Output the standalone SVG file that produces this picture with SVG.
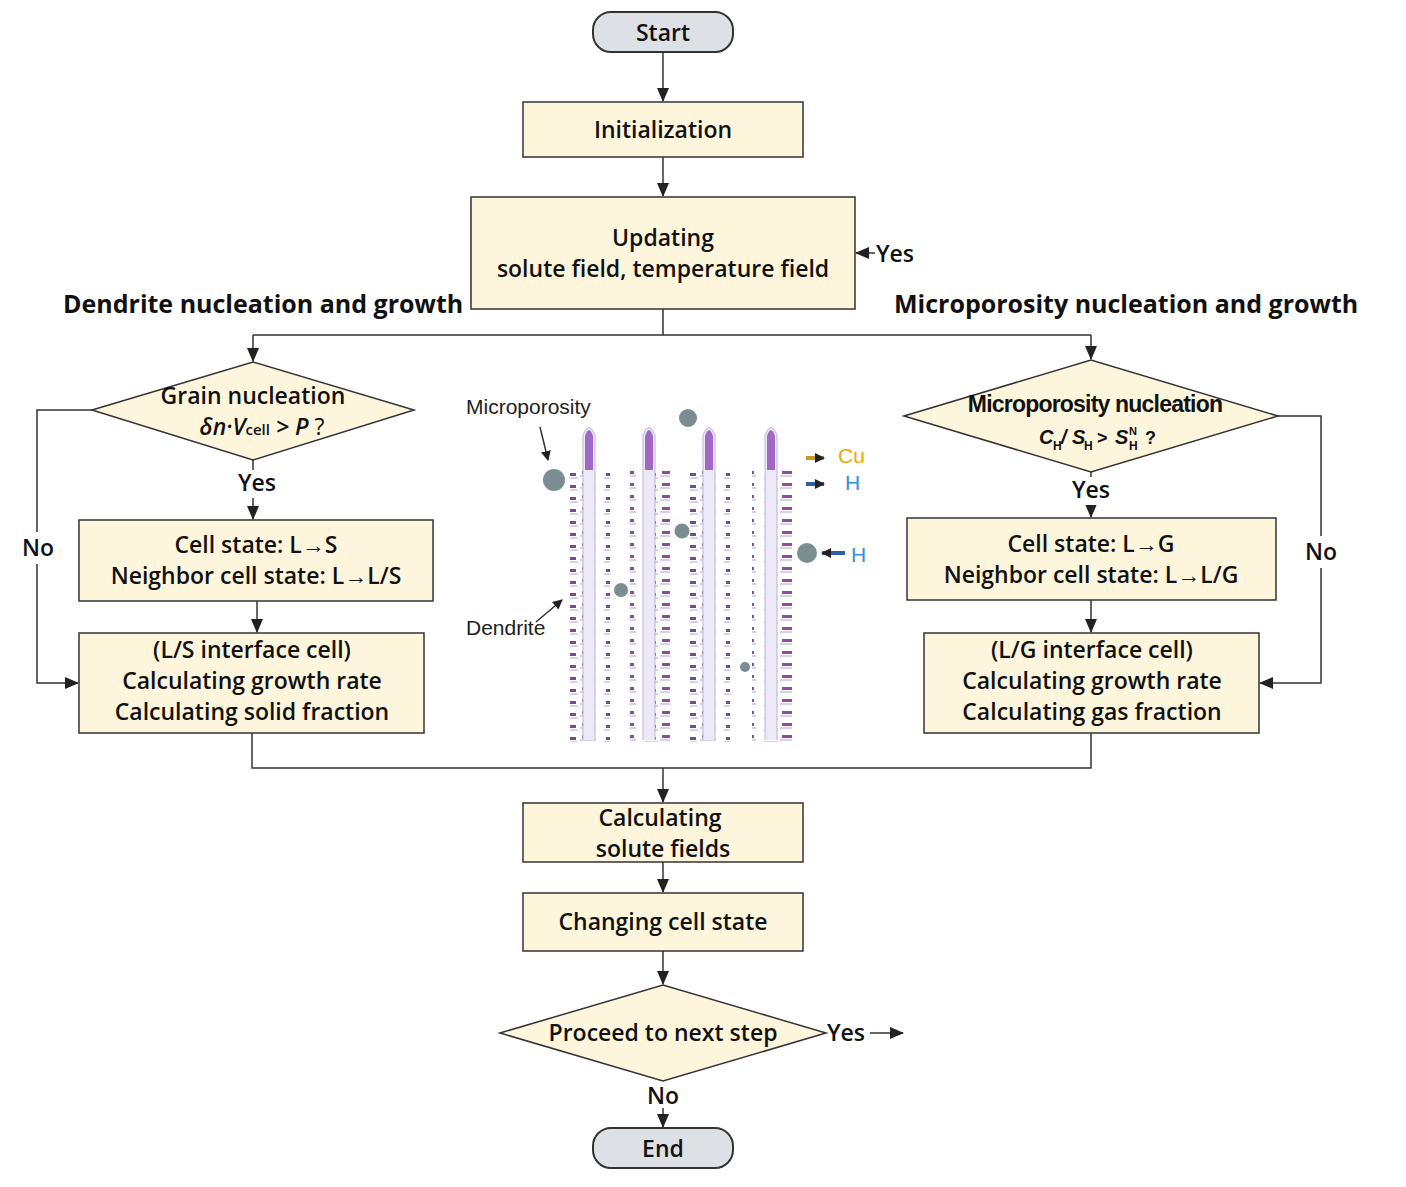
<svg xmlns="http://www.w3.org/2000/svg" width="1406" height="1187" viewBox="0 0 1406 1187">
<defs>
<marker id="ar" markerWidth="14" markerHeight="12" refX="13" refY="6" orient="auto" markerUnits="userSpaceOnUse"><path d="M0,0 L14,6 L0,12 z" fill="#222"/></marker>
<marker id="as" markerWidth="10" markerHeight="10" refX="9" refY="5" orient="auto" markerUnits="userSpaceOnUse"><path d="M0,0 L10,5 L0,10 z" fill="#222"/></marker>
<pattern id="br" width="40" height="12" patternUnits="userSpaceOnUse" x="-20">
<rect x="2" y="3" width="12" height="3" fill="#7a2a8a"/>
<rect x="26" y="5" width="10" height="3" fill="#5a2a80"/>
<rect x="0" y="7" width="16" height="2" fill="#cfc8e6"/>
<rect x="24" y="9" width="14" height="2" fill="#cfc8e6"/>
</pattern>
</defs>
<style>
.b{fill:#fdf6dc;stroke:#333;stroke-width:1.5}
.t{fill:#dde1e6;stroke:#333;stroke-width:2}
.tx{font-family:"Open Sans","Liberation Sans",Arial,sans-serif;font-weight:600;font-size:23px;fill:#111;text-anchor:middle}
.h{font-family:"Open Sans","Liberation Sans",Arial,sans-serif;font-size:25px;font-weight:700;fill:#111}
.c{fill:none;stroke:#333;stroke-width:1.5}
.s{font-family:"Liberation Sans",Arial,sans-serif;font-size:21px;fill:#222}
.w{fill:#fff}
</style>
<rect width="1406" height="1187" fill="#fff"/>
<g id="connectors">
<path class="c" d="M663,52 V101" marker-end="url(#ar)"/>
<path class="c" d="M663,157 V196" marker-end="url(#ar)"/>
<path class="c" d="M663,309 V335 M253,335 H1091"/>
<path class="c" d="M253,335 V361" marker-end="url(#ar)"/>
<path class="c" d="M1091,335 V359" marker-end="url(#ar)"/>
<path class="c" d="M253,460 V519" marker-end="url(#ar)"/>
<path class="c" d="M1091,472 V517" marker-end="url(#ar)"/>
<path class="c" d="M257,601 V632" marker-end="url(#ar)"/>
<path class="c" d="M1091,600 V632" marker-end="url(#ar)"/>
<path class="c" d="M92,410 H37 V683 H78" marker-end="url(#ar)"/>
<path class="c" d="M1278,416 H1321 V683 H1260" marker-end="url(#ar)"/>
<path class="c" d="M252,733 V768 H1091 V733"/>
<path class="c" d="M663,768 V802" marker-end="url(#ar)"/>
<path class="c" d="M663,862 V892" marker-end="url(#ar)"/>
<path class="c" d="M663,951 V984" marker-end="url(#ar)"/>
<path class="c" d="M663,1108 V1127" marker-end="url(#ar)"/>
<path class="c" d="M875,253 H856" marker-end="url(#ar)"/>
<path class="c" d="M870,1033 H903" marker-end="url(#ar)"/>
<path class="c" d="M540,427 L548,460" marker-end="url(#as)"/>
<path class="c" d="M536,622 L562,600" marker-end="url(#as)"/>
</g>
<rect class="w" x="18" y="532" width="40" height="32"/>
<rect class="w" x="1301" y="536" width="40" height="32"/>
<rect class="w" x="235" y="470" width="44" height="28"/>
<rect class="w" x="1069" y="477" width="44" height="28"/>
<rect class="w" x="643" y="1084" width="40" height="24"/>
<text class="tx" x="38" y="556">No</text>
<text class="tx" x="1321" y="560">No</text>
<text class="tx" x="895" y="262">Yes</text>
<text class="tx" x="257" y="491">Yes</text>
<text class="tx" x="1091" y="498">Yes</text>
<text class="tx" x="846" y="1041">Yes</text>
<text class="tx" x="663" y="1104">No</text>
<text class="h" x="63" y="313">Dendrite nucleation and growth</text>
<text class="h" x="894" y="313">Microporosity nucleation and growth</text>
<g id="start"><rect class="t" x="593" y="12" width="140" height="40" rx="18"/><text class="tx" x="663" y="41" font-weight="bold">Start</text></g>
<g id="init"><rect class="b" x="523" y="102" width="280" height="55"/><text class="tx" x="663" y="138">Initialization</text></g>
<g id="update"><rect class="b" x="471" y="197" width="384" height="112"/><text class="tx" x="663" y="246">Updating</text><text class="tx" x="663" y="277">solute field, temperature field</text></g>
<g id="grain"><polygon class="b" points="92,410 253,362 414,410 253,460"/><text class="tx" x="253" y="404">Grain nucleation</text><text class="tx" x="262" y="435" font-weight="bold" font-style="italic">δn·V<tspan font-size="15" font-style="normal">cell</tspan> &gt; P<tspan font-style="normal" font-weight="normal"> ?</tspan></text></g>
<g id="micro"><polygon class="b" points="904,416 1091,360 1278,416 1091,472"/>
<text class="tx" x="1095" y="412" font-size="20" font-weight="bold" letter-spacing="-0.8" style="font-family:'Liberation Sans',Arial,sans-serif">Microporosity nucleation</text>
<g style="font-family:'Liberation Sans',Arial,sans-serif;font-weight:bold" fill="#111">
<text x="1039" y="444" font-size="20" font-style="italic">C</text><text x="1053" y="450" font-size="12">H</text>
<text x="1061" y="444" font-size="20" font-style="italic">/ S</text><text x="1084" y="450" font-size="12">H</text>
<text x="1097" y="444" font-size="18">&gt;</text>
<text x="1115" y="444" font-size="20" font-style="italic">S</text><text x="1129" y="450" font-size="12">H</text><text x="1129" y="435" font-size="11">N</text>
<text x="1145" y="444" font-size="18">?</text></g></g>
<g id="cellL"><rect class="b" x="79" y="520" width="354" height="81"/><text class="tx" x="256" y="553">Cell state: L→S</text><text class="tx" x="256" y="584">Neighbor cell state: L→L/S</text></g>
<g id="cellG"><rect class="b" x="907" y="518" width="369" height="82"/><text class="tx" x="1091" y="552">Cell state: L→G</text><text class="tx" x="1091" y="583">Neighbor cell state: L→L/G</text></g>
<g id="ifL"><rect class="b" x="79" y="633" width="345" height="100"/><text class="tx" x="252" y="658">(L/S interface cell)</text><text class="tx" x="252" y="689">Calculating growth rate</text><text class="tx" x="252" y="720">Calculating solid fraction</text></g>
<g id="ifG"><rect class="b" x="924" y="633" width="335" height="100"/><text class="tx" x="1092" y="658">(L/G interface cell)</text><text class="tx" x="1092" y="689">Calculating growth rate</text><text class="tx" x="1092" y="720">Calculating gas fraction</text></g>
<g id="solute"><rect class="b" x="523" y="803" width="280" height="59"/><text class="tx" x="660" y="826">Calculating</text><text class="tx" x="663" y="857">solute fields</text></g>
<g id="change"><rect class="b" x="523" y="893" width="280" height="58"/><text class="tx" x="663" y="930">Changing cell state</text></g>
<g id="proceed"><polygon class="b" points="500,1033 663,985 826,1033 663,1081"/><text class="tx" x="663" y="1041">Proceed to next step</text></g>
<g id="end"><rect class="t" x="593" y="1128" width="140" height="40" rx="18"/><text class="tx" x="663" y="1157" font-weight="bold">End</text></g>
<g id="picture">
<rect x="570" y="470" width="40" height="272" fill="url(#br)" opacity="0.85"/>
<rect x="630" y="470" width="40" height="272" fill="url(#br)" opacity="0.85"/>
<rect x="690" y="470" width="40" height="272" fill="url(#br)" opacity="0.85"/>
<rect x="752" y="470" width="40" height="272" fill="url(#br)" opacity="0.85"/>
<path d="M583,740 V435 Q589,420 595,435 V740" fill="#eceaf6" stroke="#c0b0dc"/>
<path d="M643,740 V435 Q649,420 655,435 V740" fill="#eceaf6" stroke="#c0b0dc"/>
<path d="M703,740 V435 Q709,420 715,435 V740" fill="#eceaf6" stroke="#c0b0dc"/>
<path d="M765,740 V435 Q771,420 777,435 V740" fill="#eceaf6" stroke="#c0b0dc"/>
<path d="M585,470 V436 Q589,424 593,436 V470z M645,470 V436 Q649,424 653,436 V470z M705,470 V436 Q709,424 713,436 V470z M767,470 V436 Q771,424 775,436 V470z" fill="#a068c0"/>
<g fill="#7b8d91"><circle cx="554" cy="480" r="11"/><circle cx="688" cy="418" r="9"/><circle cx="682" cy="531" r="7.5"/><circle cx="621" cy="590" r="7"/><circle cx="745" cy="667" r="5"/><circle cx="807" cy="553" r="10"/></g>
<path d="M806,458 H824" stroke="#c89a20" stroke-width="4" marker-end="url(#as)"/>
<path d="M806,484 H824" stroke="#2d5ea8" stroke-width="4" marker-end="url(#as)"/>
<path d="M845,553 H822" stroke="#2d5ea8" stroke-width="4" marker-end="url(#as)"/>
<text class="s" x="838" y="463" style="fill:#f0a800">Cu</text>
<text class="s" x="845" y="490" style="fill:#3a8ee0">H</text>
<text class="s" x="851" y="562" style="fill:#3a8ee0">H</text>
<text class="s" x="466" y="414">Microporosity</text>
<text class="s" x="466" y="635">Dendrite</text>
</g>
</svg>
